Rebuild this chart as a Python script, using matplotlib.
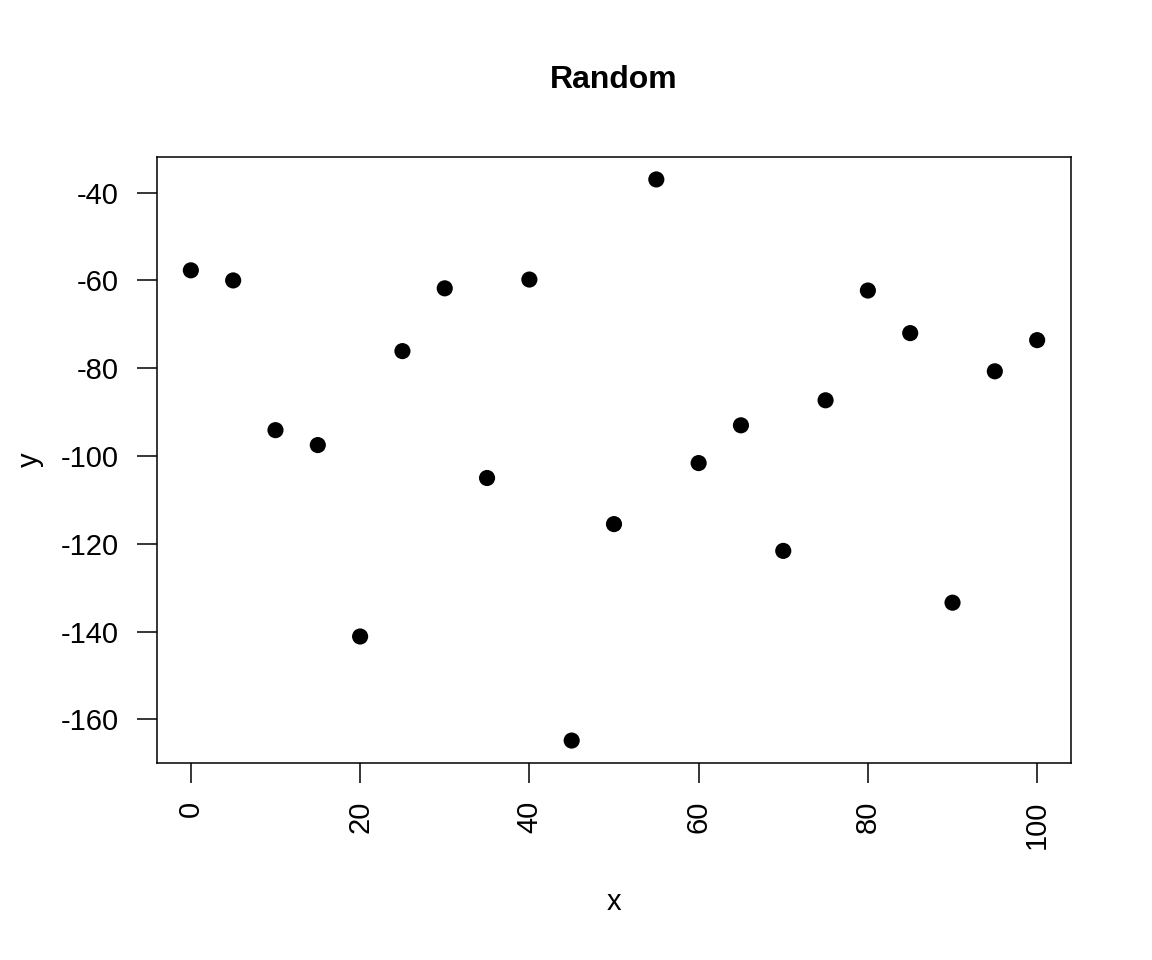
import matplotlib.pyplot as plt
import numpy as np

plt.rcParams['font.family'] = ['Liberation Sans', 'DejaVu Sans']
plt.rcParams['axes.unicode_minus'] = False

# values
x = [0, 5, 10, 15, 20, 25, 30, 35, 40, 45, 50, 55, 60, 65, 70, 75, 80, 85, 90, 95, 100]
y = [-57.7, -60.0, -94.1, -97.5, -141.1, -76.1, -61.8, -105.0, -59.8, -164.8,
     -115.5, -37.0, -101.6, -93.0, -121.6, -87.3, -62.3, -72.0, -133.4, -80.7, -73.6]
xticks = [0, 20, 40, 60, 80, 100]
yticks = [-160, -140, -120, -100, -80, -60, -40]

W, H = 1152, 960
fig = plt.figure(figsize=(W / 100, H / 100), dpi=100)
ax = fig.add_axes([157 / W, 1 - 763 / H, (1071 - 157) / W, (763 - 157) / H])

ax.scatter(x, y, s=135, color='black', edgecolors='none', zorder=3)

# R style 4% padding
xr = max(x) - min(x)
yr = max(y) - min(y)
ax.set_xlim(min(x) - 0.04 * xr, max(x) + 0.04 * xr)
ax.set_ylim(min(y) - 0.04 * yr, max(y) + 0.04 * yr)

ax.set_xticks(xticks)
ax.set_yticks(yticks)
ax.set_xticklabels([str(t) for t in xticks], rotation=90)
ax.tick_params(direction='out', length=14.4, width=1.1, labelsize=21, pad=13, color='black')
for s in ax.spines.values():
    s.set_linewidth(1.1)

fig.text(614 / W, 1 - 80 / H, 'Random', ha='center', va='center', fontsize=23, fontweight='bold')
fig.text(614 / W, 1 - 902 / H, 'x', ha='center', va='center', fontsize=21)
fig.text(30 / W, 1 - 460 / H, 'y', ha='center', va='center', fontsize=21, rotation=90)

fig.savefig('out.png', dpi=100)
